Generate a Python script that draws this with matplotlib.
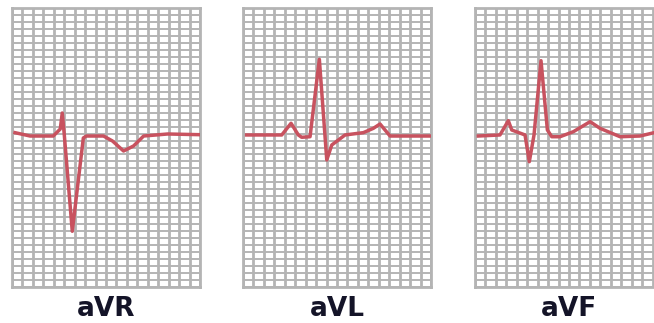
import matplotlib
matplotlib.use("Agg")
import matplotlib.pyplot as plt
import numpy as np

# leads shown, with trace points
# x in small-box units (0..18 across a strip), y in grid rows (baseline = 0)
leads = ["aVR", "aVL", "aVF"]

avr_x = [0.29, 1.73, 3.95, 4.62, 4.81, 5.0, 5.77, 6.83, 7.12, 8.76, 9.62, 10.68, 11.64, 12.6, 14.9, 18.0]
avr_y = [0.19, -0.29, -0.29, 0.71, 3.0, 0.0, -13.9, -0.57, -0.29, -0.29, -1.0, -2.43, -1.71, -0.29, 0.0, -0.1]

avl_x = [0.35, 3.71, 4.6, 5.3, 5.62, 6.42, 7.31, 8.02, 8.5, 9.77, 11.52, 12.48, 13.12, 14.08, 17.98]
avl_y = [-0.14, -0.14, 1.53, -0.14, -0.47, -0.39, 10.67, -3.71, -1.57, -0.14, 0.19, 0.81, 1.43, -0.29, -0.29]

avf_x = [0.32, 2.39, 3.19, 3.52, 4.79, 5.2, 5.65, 6.32, 6.93, 7.35, 8.14, 9.42, 11.02, 11.97, 13.89, 15.8, 17.15]
avf_y = [-0.29, -0.14, 1.9, 0.57, -0.14, -3.96, -0.14, 10.47, 0.57, -0.39, -0.39, 0.33, 1.76, 0.81, -0.39, -0.29, 0.19]

traces = [(avr_x, avr_y), (avl_x, avl_y), (avf_x, avf_y)]

W, H = 654, 323
fig = plt.figure(figsize=(W / 100, H / 100), dpi=100)

grid_c = "#b4b4b4"
trace_c = "#c8525f"
lefts = [12, 243, 475]
pw, top, bot = 188, 8, 287
ylo, yhi = -21.86, 18.0

for left, name, (xs, ys) in zip(lefts, leads, traces):
    ax = fig.add_axes([left / W, 1 - bot / H, pw / W, (bot - top) / H])
    ax.set_xlim(0, 18)
    ax.set_ylim(ylo, yhi)
    for xv in np.linspace(0, 18, 19):
        ax.axvline(xv, color=grid_c, lw=2.0, zorder=1)
    for yv in np.linspace(ylo, yhi, 41):
        ax.axhline(yv, color=grid_c, lw=1.4, zorder=1)
    ax.plot(xs, ys, color=trace_c, lw=2.5, solid_joinstyle="round", zorder=3)
    for s in ax.spines.values():
        s.set_color(grid_c)
        s.set_linewidth(2.0)
    ax.set_xticks([])
    ax.set_yticks([])
    fig.text((left + pw / 2) / W, 1 - 309 / H, name, ha="center", va="center",
             fontsize=19, fontweight="bold", color="#141428")

fig.savefig("out.png", dpi=100)
